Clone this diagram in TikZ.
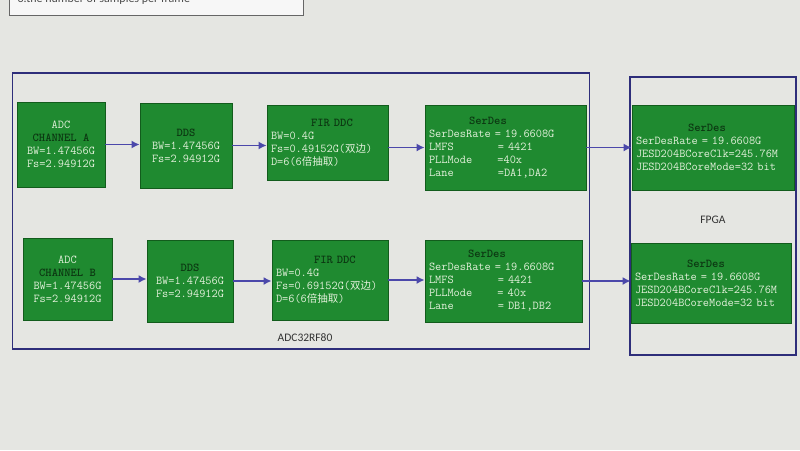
\documentclass[tikz,border=0pt]{standalone}
\usepackage{fontspec}
\setmainfont{Liberation Sans}
\setsansfont{Carlito}
\newfontfamily\cjk{Noto Sans CJK SC}
\usetikzlibrary{arrows.meta}
\definecolor{bg}{HTML}{E5E6E2}
\definecolor{gfill}{HTML}{1F8A30}
\definecolor{gline}{HTML}{125C1C}
\definecolor{gtxt}{HTML}{E2F0DA}
\definecolor{gtitle}{HTML}{0C3812}
\definecolor{navy}{HTML}{2E2E7A}
\definecolor{arr}{HTML}{4B48AA}
\newcommand\boxtitle[1]{{\bfseries\color{gtitle}#1}}
\newcommand\zh[1]{{\cjk\fontsize{10.5}{13}\selectfont #1}}
\newcommand\chsp[1]{\hspace*{#1\dimexpr 0.525em\relax}}
\begin{document}
\begin{tikzpicture}[x=1pt,y=-1pt,
  gbox/.style={draw=gline, line width=0.8pt, fill=gfill, text=gtxt,
    font=\ttfamily\fontsize{12}{13}\selectfont, inner sep=0pt},
  cbox/.style={gbox, align=center},
  lbox/.style={gbox, align=left, inner xsep=4pt},
  frame/.style={draw=navy, line width=1.3pt},
  lab/.style={font=\sffamily\fontsize{11.5}{13}\selectfont, text=black!80},
  conn/.style={draw=arr, line width=1.5pt, -{Latex[length=8pt,width=8pt]}}]
\useasboundingbox (0,0) rectangle (800,450);
\fill[bg] (0,0) rectangle (800,450);
\begin{scope}
\clip (0,0) rectangle (800,450);
\node[draw=black!60, line width=0.8pt, fill=black!3, minimum width=294pt, minimum height=40pt, inner sep=0pt] (note) at (156,-5) {};
\node[lab, anchor=west, font=\sffamily\fontsize{12}{14}\selectfont, text=black!70] (notet) at (14,-1) {3.the number of samples per frame};
\end{scope}

% frames
\node[frame, minimum width=577pt, minimum height=276pt, inner sep=0pt] (adc32) at (301,211) {};
\node[frame, minimum width=166pt, minimum height=278pt, inner sep=0pt] (fpga) at (713,216) {};
\node[lab] (adc32l) at (305,338) {ADC32RF80};
\node[lab] (fpgal) at (713,220) {FPGA};

% row A
\node[cbox, minimum width=88pt, minimum height=85pt] (adcA) at (61,144.5)
  {ADC\\\boxtitle{CHANNEL A}\\BW=1.47456G\\Fs=2.94912G};
\node[cbox, minimum width=92pt, minimum height=85pt] (ddsA) at (186,145.5)
  {\boxtitle{DDS}\\BW=1.47456G\\Fs=2.94912G};
\node[lbox, minimum width=121pt, minimum height=75pt, text width=113pt] (firA) at (327.5,142.5)
  {\hspace*{40pt}\boxtitle{FIR DDC}\\BW=0.4G\\Fs=0.49152G(\zh{双边})\\D=6(6\zh{倍抽取})};
\node[lbox, minimum width=161pt, minimum height=85pt, text width=153pt] (serA) at (505.5,147.5)
  {\hspace*{40pt}\boxtitle{SerDes}\\SerDesRate = 19.6608G\\LMFS\chsp{7}= 4421\\PLLMode\chsp{4}=40x\\Lane\chsp{7}=DA1,DA2};
\node[lbox, minimum width=162pt, minimum height=85pt, text width=154pt] (fserA) at (713,147.5)
  {\hspace*{52pt}\boxtitle{SerDes}\\SerDesRate = 19.6608G\\JESD204BCoreClk=245.76M\\JESD204BCoreMode=32 bit};

% row B
\node[cbox, minimum width=89pt, minimum height=82pt] (adcB) at (67.5,279)
  {ADC\\\boxtitle{CHANNEL B}\\BW=1.47456G\\Fs=2.94912G};
\node[cbox, minimum width=86pt, minimum height=82pt] (ddsB) at (190,281)
  {\boxtitle{DDS}\\BW=1.47456G\\Fs=2.94912G};
\node[lbox, minimum width=116pt, minimum height=80pt, text width=108pt] (firB) at (330,280)
  {\hspace*{38pt}\boxtitle{FIR DDC}\\BW=0.4G\\Fs=0.69152G(\zh{双边})\\D=6(6\zh{倍抽取})};
\node[lbox, minimum width=157pt, minimum height=82pt, text width=149pt] (serB) at (503.5,281)
  {\hspace*{39pt}\boxtitle{SerDes}\\SerDesRate = 19.6608G\\LMFS\chsp{7}= 4421\\PLLMode\chsp{4}= 40x\\Lane\chsp{7}= DB1,DB2};
\node[lbox, minimum width=160pt, minimum height=80pt, text width=152pt] (fserB) at (711,283)
  {\hspace*{52pt}\boxtitle{SerDes}\\SerDesRate = 19.6608G\\JESD204BCoreClk=245.76M\\JESD204BCoreMode=32 bit};

% connectors
\draw[conn] (adcA.east) -- (adcA.east -| ddsA.west);
\draw[conn] (ddsA.east) -- (ddsA.east -| firA.west);
\draw[conn] ([yshift=-5pt]firA.east) -- ([yshift=-5pt]firA.east -| serA.west);
\draw[conn] (serA.east) -- (serA.east -| fserA.west);
\draw[conn] (adcB.east) -- (adcB.east -| ddsB.west);
\draw[conn] (ddsB.east) -- (ddsB.east -| firB.west);
\draw[conn] (firB.east) -- (firB.east -| serB.west);
\draw[conn] (serB.east) -- (serB.east -| fserB.west);
\end{tikzpicture}
\end{document}
